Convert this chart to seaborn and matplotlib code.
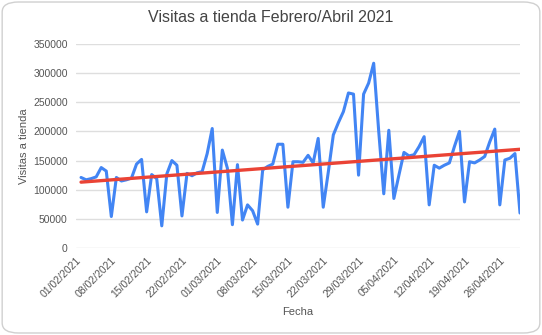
import numpy as np
import pandas as pd
import matplotlib
matplotlib.use("Agg")
import matplotlib.pyplot as plt
import matplotlib.dates as mdates
from matplotlib.patches import FancyBboxPatch
import seaborn as sns

# ---- data ----
start_date = "2021-02-02"
visitas = [121000, 117000, 119000, 122000, 138000, 132000, 54000,
           121000, 115000, 117000, 120000, 144000, 152000, 62000,
           126000, 119000, 38000, 127000, 150000, 142000, 55000,
           128000, 124000, 129000, 131000, 162000, 205000, 61000,
           168000, 137000, 40000, 143000, 48000, 74000, 64000,
           41000, 134000, 140000, 144000, 178000, 178000, 70000,
           148000, 148000, 147000, 159000, 146000, 188000, 70000,
           130000, 194000, 215000, 234000, 266000, 264000, 125000,
           264000, 283000, 317000, 200000, 93000, 202000, 85000,
           125000, 164000, 158000, 160000, 174000, 191000, 74000,
           142000, 137000, 142000, 146000, 174000, 200000, 79000,
           148000, 146000, 151000, 157000, 182000, 204000, 74000,
           151000, 154000, 162000, 60000]
fechas = pd.date_range(start_date, periods=len(visitas), freq="D")
tick_dates = pd.date_range("2021-02-01", "2021-04-26", freq="7D")
y_ticks = [0, 50000, 100000, 150000, 200000, 250000, 300000, 350000]

title = "Visitas a tienda Febrero/Abril 2021"
xlabel = "Fecha"
ylabel = "Visitas a tienda"

df = pd.DataFrame({"fecha": fechas, "visitas": visitas})
df["dnum"] = mdates.date2num(df["fecha"])

sns.set_theme(style="white")
plt.rcParams["font.family"] = ["Liberation Sans", "DejaVu Sans"]

fig = plt.figure(figsize=(5.42, 3.35), dpi=100)
ax = fig.add_axes([76 / 542, 1 - 248 / 335, (520 - 76) / 542, (248 - 44) / 335])

# rounded border
border = FancyBboxPatch((0.004, 0.006), 0.992, 0.988,
                        boxstyle="round,pad=0,rounding_size=0.03",
                        transform=fig.transFigure, fill=False,
                        edgecolor="#d0d0d0", linewidth=1.0)
fig.patches.append(border)

sns.lineplot(data=df, x="dnum", y="visitas", ax=ax, color="#4285F4",
             linewidth=2.2, zorder=3)
sns.regplot(data=df, x="dnum", y="visitas", ax=ax, scatter=False, ci=None,
            color="#EA4335", line_kws={"linewidth": 2.4, "zorder": 4},
            truncate=True)

ax.set_ylim(0, 350000)
ax.set_xlim(mdates.date2num(pd.Timestamp("2021-02-01")),
            mdates.date2num(pd.Timestamp("2021-04-30")))
ax.set_yticks(y_ticks)
ax.set_yticklabels([str(v) for v in y_ticks])
ax.set_xticks(mdates.date2num(tick_dates))
ax.set_xticklabels([d.strftime("%d/%m/%Y") for d in tick_dates],
                   rotation=45, ha="right", rotation_mode="anchor")

ax.grid(axis="y", color="#dedede", linewidth=1.0)
ax.grid(axis="x", visible=False)
ax.set_axisbelow(True)
for s in ax.spines.values():
    s.set_visible(False)
ax.tick_params(axis="both", length=0, labelsize=7.5, colors="#555555")
ax.tick_params(axis="y", pad=6)
ax.tick_params(axis="x", pad=5)

ax.set_xlabel(xlabel, fontsize=8, color="#555555")
ax.set_ylabel(ylabel, fontsize=8, color="#555555")
ax.xaxis.set_label_coords(0.5, -0.29)
ax.yaxis.set_label_coords(-0.105, 0.5)
fig.text(0.5, 1 - 18 / 335, title, ha="center", va="center",
         fontsize=11.5, color="#444444")

fig.savefig("out.png", dpi=100)
